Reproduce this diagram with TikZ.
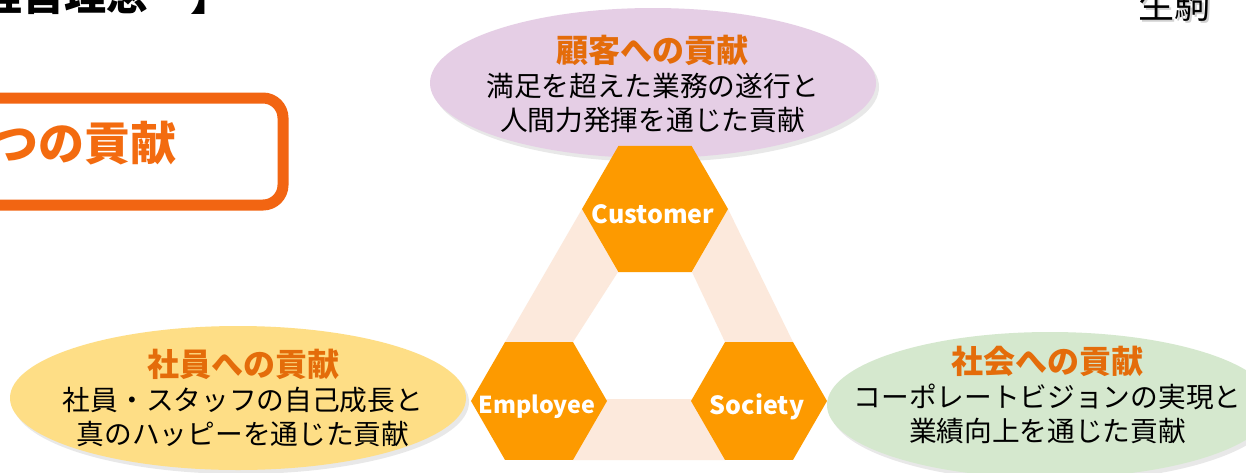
\documentclass[tikz,border=0pt]{standalone}
\usepackage{fontspec}
\setmainfont{Noto Sans CJK JP}
\usetikzlibrary{shapes.geometric,shadows}
\definecolor{purpleE}{HTML}{E5CEE5}
\definecolor{yellowE}{HTML}{FEDE86}
\definecolor{greenE}{HTML}{D5E8CE}
\definecolor{hexor}{HTML}{FD9A00}
\definecolor{peach}{HTML}{FCE9DC}
\definecolor{titleor}{HTML}{E46C0A}
\definecolor{boxor}{HTML}{F26512}
\definecolor{boxtext}{HTML}{F36B0F}
\begin{document}
\begin{tikzpicture}[x=1pt,y=-1pt,
  bubble/.style={ellipse, inner sep=0pt, draw=none,
    drop shadow={opacity=0.18, shadow xshift=3pt, shadow yshift=-4pt}},
  bubbletext/.style={align=center, inner sep=0pt, text=black,
    font=\fontsize{27.7}{34}\selectfont},
  hexa/.style={regular polygon, regular polygon sides=6, inner sep=0pt,
    fill=hexor, draw=none},
  hexlabel/.style={text=white, inner sep=0pt, font=\bfseries\fontsize{25}{28}\selectfont},
  strip/.style={fill=peach, draw=none}
]
\useasboundingbox (0,0) rectangle (1246,472);
\fill[white] (0,0) rectangle (1246,472);

% header texts
\node[anchor=base west, inner sep=0pt, font=\bfseries\fontsize{42}{44}\selectfont] (title) at (-20,10.5) {経営理念　】};
\node[anchor=base west, inner sep=0pt, text=black!18, font=\fontsize{36}{38}\selectfont] (nameshadow) at (1140.5,20.5) {生駒};
\node[anchor=base west, inner sep=0pt, font=\fontsize{36}{38}\selectfont] (name) at (1138,18) {生駒};

% left box
\node[draw=boxor, line width=11pt, rounded corners=20pt, minimum width=400pt, minimum height=107pt] (box) at (83,151.5) {};
\node[anchor=east, inner sep=0pt, text=boxtext, font=\bfseries\fontsize{46}{48}\selectfont] (boxtxt) at (177,143) {つの貢献};

% ellipses
\node[bubble, fill=purpleE, minimum width=446pt, minimum height=150pt] (custE) at (653,83) {};
\node[bubble, fill=yellowE, minimum width=456pt, minimum height=144pt] (empE) at (238,398) {};
\node[bubble, fill=greenE, minimum width=446pt, minimum height=146pt] (socE) at (1050,405) {};

\node[bubbletext] (custT) at (652.5,84) {{\bfseries\color{titleor}\fontsize{32}{34}\selectfont 顧客への貢献}\\満足を超えた業務の遂行と\\人間力発揮を通じた貢献};
\node[bubbletext] (empT) at (243,397.5) {{\bfseries\color{titleor}\fontsize{32}{34}\selectfont 社員への貢献}\\社員・スタッフの自己成長と\\真のハッピーを通じた貢献};
\node[bubbletext] (socT) at (1047.5,395) {{\bfseries\color{titleor}\fontsize{32}{34}\selectfont 社会への貢献}\\コーポレートビジョンの実現と\\業績向上を通じた貢献};

% band strips
\fill[strip] (505,342) -- (582,209) -- (618,272) -- (573,342) -- cycle;
\fill[strip] (728,209) -- (793,342) -- (725,342) -- (692,272) -- cycle;
\fill[strip] (590,399) -- (705,399) -- (725,460) -- (573,460) -- cycle;

% hexagons
\node[hexa, minimum size=146pt] (cust) at (655,209) {};
\node[hexa, minimum size=136pt] (emp) at (539,401) {};
\node[hexa, minimum size=136pt] (soc) at (759,401) {};
\node[hexlabel] (custL) at (653,214) {Customer};
\node[hexlabel, font=\bfseries\fontsize{23.3}{28}\selectfont] (empL) at (537,407) {Employee};
\node[hexlabel] (socL) at (757,407) {Society};
\end{tikzpicture}
\end{document}
